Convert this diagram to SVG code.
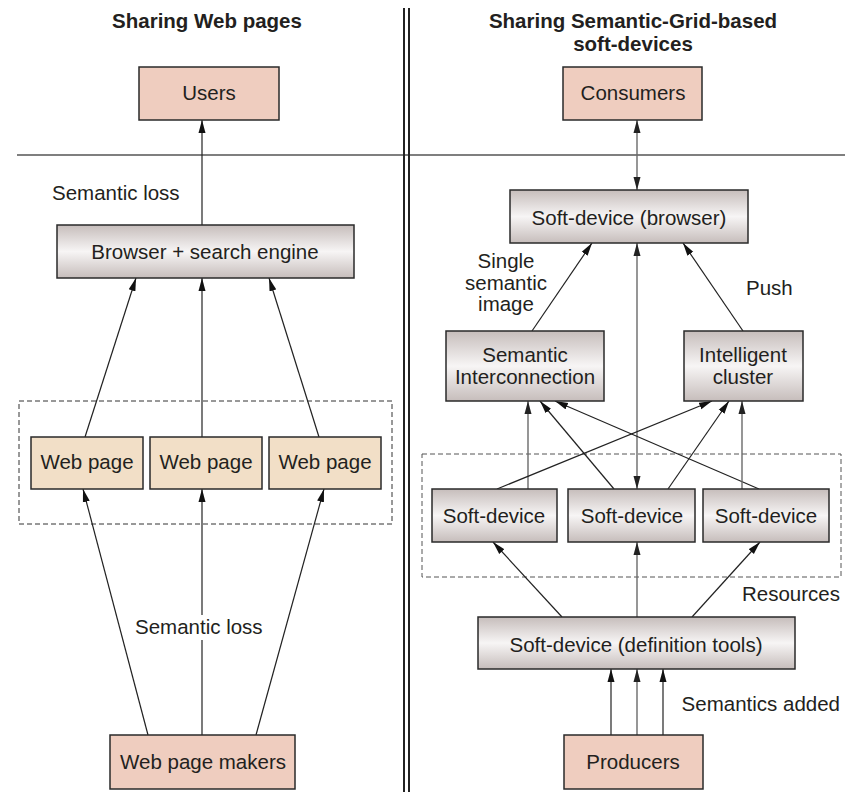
<svg xmlns="http://www.w3.org/2000/svg" width="850" height="795" viewBox="0 0 850 795">
<style>
text{font-family:"Liberation Sans",Arial,sans-serif;font-size:20.5px;fill:#231f20}
.t{font-weight:bold}
.c{text-anchor:middle}
.e{text-anchor:end}
.box{stroke:#2a2a2a;stroke-width:1.5}
.sal{fill:#efcdbf}
.bei{fill:#f2dfc7}
.gr{fill:url(#g)}
.ln{stroke:#222;stroke-width:1.2;fill:none}
.lg{stroke:#6a6a6a;stroke-width:1.4;fill:none}
.a{marker-end:url(#ah)}
.ag{marker-end:url(#ahg)}
.dg{marker-start:url(#ahg);marker-end:url(#ahg)}
</style>
<defs>
<linearGradient id="g" x1="0" y1="0" x2="0" y2="1">
<stop offset="0" stop-color="#c6bdbb"/>
<stop offset="0.5" stop-color="#f7f5f5"/>
<stop offset="1" stop-color="#c6bdbb"/>
</linearGradient>
<marker id="ah" markerUnits="userSpaceOnUse" markerWidth="14" markerHeight="8" refX="13" refY="4" orient="auto-start-reverse">
<path d="M0,0.5 L13,4 L0,7.5 z" fill="#111"/>
</marker>
<marker id="ahg" markerUnits="userSpaceOnUse" markerWidth="14" markerHeight="8" refX="13" refY="4" orient="auto-start-reverse">
<path d="M0,0.5 L13,4 L0,7.5 z" fill="#222"/>
</marker>
</defs>

<g id="frame">
<line x1="17" y1="155" x2="845" y2="155" stroke="#555" stroke-width="1.5"/>
<line x1="404" y1="8" x2="404" y2="792" stroke="#222" stroke-width="2"/>
<line x1="409" y1="8" x2="409" y2="792" stroke="#222" stroke-width="2"/>
<rect x="19" y="401" width="373" height="123" fill="none" stroke="#333" stroke-width="1" stroke-dasharray="5,3"/>
<rect x="422" y="454" width="419" height="123" fill="none" stroke="#555" stroke-width="1" stroke-dasharray="5,3"/>
</g>

<g id="titles">
<text class="t c" x="207" y="28">Sharing Web pages</text>
<text class="t c" x="633" y="28">Sharing Semantic-Grid-based</text>
<text class="t c" x="633" y="51">soft-devices</text>
</g>

<g id="connectors">
<line class="ln a" x1="202" y1="225" x2="202" y2="120"/>
<line class="ln a" x1="85" y1="437" x2="136" y2="278"/>
<line class="ln a" x1="202" y1="437" x2="202" y2="278"/>
<line class="ln a" x1="319" y1="437" x2="269" y2="278"/>
<line class="ln a" x1="148" y1="735" x2="83" y2="489"/>
<line class="ln" x1="202" y1="735" x2="202" y2="640"/>
<line class="ln a" x1="202" y1="615" x2="202" y2="489"/>
<line class="ln a" x1="256" y1="735" x2="324" y2="489"/>

<line class="lg dg" x1="637" y1="120" x2="637" y2="190"/>
<line class="ln a" x1="532" y1="331" x2="592" y2="243"/>
<line class="lg dg" x1="637" y1="489" x2="637" y2="243"/>
<line class="ln a" x1="743" y1="331" x2="683" y2="243"/>
<line class="lg ag" x1="528" y1="489" x2="528" y2="401"/>
<line class="ln a" x1="497" y1="489" x2="712" y2="401"/>
<line class="ln a" x1="614" y1="489" x2="540" y2="401"/>
<line class="ln a" x1="668" y1="489" x2="729" y2="401"/>
<line class="ln a" x1="759" y1="489" x2="555" y2="401"/>
<line class="lg ag" x1="742" y1="489" x2="742" y2="401"/>
<line class="ln a" x1="562" y1="617" x2="493" y2="542"/>
<line class="lg ag" x1="637" y1="617" x2="637" y2="542"/>
<line class="ln a" x1="692" y1="617" x2="760" y2="542"/>
<line class="ln a" x1="611" y1="735" x2="611" y2="669"/>
<line class="lg ag" x1="637" y1="735" x2="637" y2="669"/>
<line class="ln a" x1="663" y1="735" x2="663" y2="669"/>
</g>

<g id="labels">
<text x="52" y="200">Semantic loss</text>
<text x="135" y="634">Semantic loss</text>
<text class="c" x="506" y="268">Single</text>
<text class="c" x="506" y="290">semantic</text>
<text class="c" x="506" y="311">image</text>
<text x="746" y="295">Push</text>
<text class="e" x="840" y="601">Resources</text>
<text class="e" x="840" y="711">Semantics added</text>
</g>

<g id="users"><rect class="box sal" x="139" y="67" width="140" height="53"/><text class="c" x="209" y="100">Users</text></g>
<g id="browser-search"><rect class="box gr" x="57" y="225" width="297" height="53"/><text class="c" x="205" y="259">Browser + search engine</text></g>
<g id="webpage1"><rect class="box bei" x="31" y="437" width="112" height="52"/><text class="c" x="87" y="469">Web page</text></g>
<g id="webpage2"><rect class="box bei" x="150" y="437" width="112" height="52"/><text class="c" x="206" y="469">Web page</text></g>
<g id="webpage3"><rect class="box bei" x="269" y="437" width="112" height="52"/><text class="c" x="325" y="469">Web page</text></g>
<g id="makers"><rect class="box sal" x="110" y="735" width="185" height="54"/><text class="c" x="203" y="769">Web page makers</text></g>

<g id="consumers"><rect class="box sal" x="563" y="67" width="139" height="53"/><text class="c" x="633" y="100">Consumers</text></g>
<g id="sd-browser"><rect class="box gr" x="510" y="190" width="238" height="53"/><text class="c" x="629" y="225">Soft-device (browser)</text></g>
<g id="sem-inter"><rect class="box gr" x="446" y="331" width="158" height="70"/><text class="c" x="525" y="362">Semantic</text><text class="c" x="525" y="384">Interconnection</text></g>
<g id="intel-cluster"><rect class="box gr" x="684" y="331" width="119" height="70"/><text class="c" x="743" y="362">Intelligent</text><text class="c" x="743" y="384">cluster</text></g>
<g id="sd1"><rect class="box gr" x="432" y="489" width="125" height="53"/><text class="c" x="494" y="523">Soft-device</text></g>
<g id="sd2"><rect class="box gr" x="568" y="489" width="127" height="53"/><text class="c" x="632" y="523">Soft-device</text></g>
<g id="sd3"><rect class="box gr" x="703" y="489" width="126" height="53"/><text class="c" x="766" y="523">Soft-device</text></g>
<g id="sd-def"><rect class="box gr" x="478" y="617" width="317" height="52"/><text class="c" x="636" y="652">Soft-device (definition tools)</text></g>
<g id="producers"><rect class="box sal" x="564" y="735" width="139" height="54"/><text class="c" x="633" y="769">Producers</text></g>
</svg>
